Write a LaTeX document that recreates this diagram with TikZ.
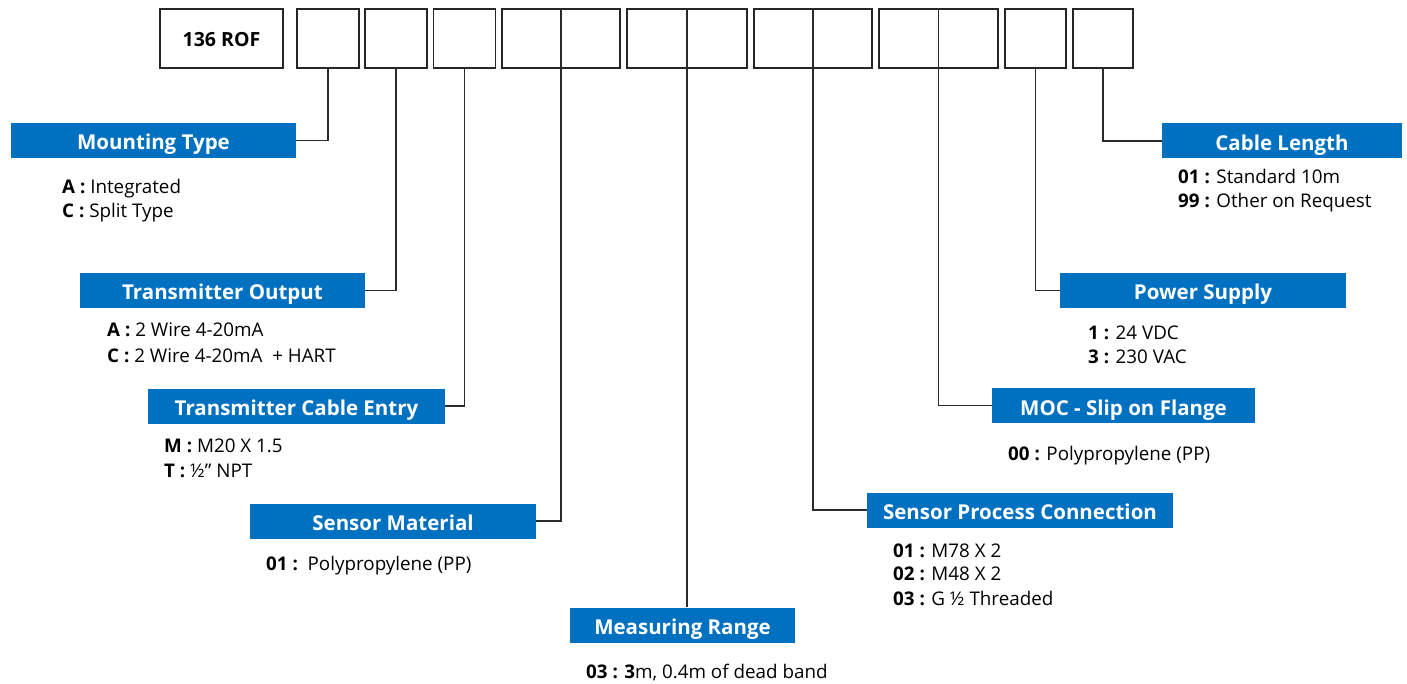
\documentclass[tikz,border=0pt]{standalone}
\usepackage{fontspec}
\setmainfont{Open Sans}
\definecolor{labblue}{HTML}{0070C0}
\definecolor{wirec}{HTML}{2B2B2B}
\newcommand{\labfont}{\fontsize{20.5}{24}\selectfont\bfseries}
\newcommand{\optfont}{\fontsize{18.8}{22}\selectfont}
\begin{document}
\begin{tikzpicture}[x=1pt,y=-1pt,
  box/.style={draw=black!85, line width=1.6pt, minimum height=59pt, inner sep=0},
  lab/.style={fill=labblue, text=white, font=\labfont, inner sep=0, minimum height=35pt, text height=19pt, text depth=0pt},
  opt/.style={anchor=base west, inner sep=0, font=\optfont},
  wire/.style={draw=wirec, line width=1.3pt}]
\path[use as bounding box] (0,0) rectangle (1407,684);
% top code boxes
\node[box, minimum width=123pt, font=\fontsize{19.5}{22}\selectfont\bfseries, text height=17pt, text depth=0pt] (b0) at (221.5,38.5) {136 ROF};
\node[box, minimum width=62pt] (b1) at (328,38.5) {};
\node[box, minimum width=62pt] (b2) at (396,38.5) {};
\node[box, minimum width=62pt] (b3) at (464.5,38.5) {};
\node[box, minimum width=118pt] (b4) at (561,38.5) {};
\node[box, minimum width=120pt] (b5) at (687,38.5) {};
\node[box, minimum width=118pt] (b6) at (813,38.5) {};
\node[box, minimum width=119pt] (b7) at (938.5,38.5) {};
\node[box, minimum width=61pt] (b8) at (1035.5,38.5) {};
\node[box, minimum width=60pt] (b9) at (1103,38.5) {};
% labels
\node[lab, minimum width=285pt] (L1) at (153.5,140.5) {Mounting Type};
\node[lab, minimum width=285pt] (L2) at (222.5,290.5) {Transmitter Output};
\node[lab, minimum width=297pt] (L3) at (296.5,406) {Transmitter Cable Entry};
\node[lab, minimum width=286pt] (L4) at (393,521) {Sensor Material};
\node[lab, minimum width=225pt] (L5) at (682.5,625) {Measuring Range};
\node[lab, minimum width=306pt] (L6) at (1020,510) {Sensor Process Connection};
\node[lab, minimum width=263pt] (L7) at (1123.5,405.5) {MOC - Slip on Flange};
\node[lab, minimum width=286pt] (L8) at (1203,290.5) {Power Supply};
\node[lab, minimum width=240pt] (L9) at (1282,141) {Cable Length};
% connectors
\draw[wire] (b1.south) |- (L1.east);
\draw[wire] (b2.south) |- (L2.east);
\draw[wire] (b3.south) |- (L3.east);
\draw[wire] (b4.north) |- (L4.east);
\draw[wire] (b5.north) -- (b5.north |- L5.north);
\draw[wire] (b6.north) |- (L6.west);
\draw[wire] (b7.north) |- (L7.west);
\draw[wire] (b8.south) |- (L8.west);
\draw[wire] (b9.south) |- (L9.west);
% options
\node[opt] (o1a) at (62,194) {\textbf{A :} Integrated};
\node[opt] (o1c) at (62,218) {\textbf{C :} Split Type};
\node[opt] (o2a) at (107,337) {\textbf{A :} 2 Wire 4-20mA};
\node[opt] (o2c) at (107,362) {\textbf{C :} 2 Wire 4-20mA\ \ + HART};
\node[opt] (o3m) at (164,452) {\textbf{M :} M20 X 1.5};
\node[opt] (o3t) at (164,477) {\textbf{T :} ½” NPT};
\node[opt] (o4) at (266,570) {\textbf{01 :}\ \ Polypropylene (PP)};
\node[opt] (o5) at (586,678) {\textbf{03 : 3}m, 0.4m of dead band};
\node[opt] (o6a) at (893,557) {\textbf{01 :} M78 X 2};
\node[opt] (o6b) at (893,580) {\textbf{02 :} M48 X 2};
\node[opt] (o6c) at (893,605) {\textbf{03 :} G ½ Threaded};
\node[opt] (o7) at (1008,460) {\textbf{00 :} Polypropylene (PP)};
\node[opt] (o8a) at (1088,339) {\textbf{1 :} 24 VDC};
\node[opt] (o8b) at (1088,363) {\textbf{3 :} 230 VAC};
\node[opt] (o9a) at (1178,184) {\textbf{01 :} Standard 10m};
\node[opt] (o9b) at (1178,208) {\textbf{99 :} Other on Request};
\end{tikzpicture}
\end{document}
